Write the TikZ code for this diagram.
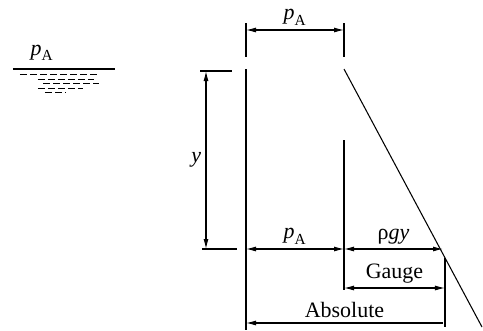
\documentclass[tikz,border=0pt]{standalone}
\usepackage{fontspec}
\setmainfont{Liberation Serif}
\usepackage{amsmath}
\usetikzlibrary{arrows.meta, positioning, calc}

\newcommand{\pA}{$\textit{p}_{\text{A}}$}

\begin{document}
\begin{tikzpicture}[
        line width=0.6pt,
        font=\fontsize{12.5}{14}\selectfont,
        dimline/.style={{Latex[length=2mm,width=1mm]}-{Latex[length=2mm,width=1mm]}},
        leftdim/.style={{Latex[length=2mm,width=1mm]}-},
        water/.style={dash pattern=on 4pt off 1.7pt, line width=0.55pt},
        lbl/.style={inner sep=2.5pt}
    ]
        \useasboundingbox (0,0) rectangle (9.66,-6.6);

        % Free surface with atmospheric pressure
        \coordinate (surfL) at (0.26,-1.38);
        \coordinate (surfR) at (2.3,-1.38);
        \draw (surfL) -- (surfR);
        \node[lbl] (patm) at (0.84,-1.06) {\pA};
        \draw[water] (0.4,-1.48) -- (1.98,-1.48);
        \draw[water] (0.76,-1.58) -- (1.88,-1.58);
        \draw[water] (0.86,-1.67) -- (1.98,-1.67);
        \draw[water] (0.76,-1.76) -- (1.66,-1.76);
        \draw[water] (0.9,-1.85) -- (1.32,-1.85);

        % Pressure axis and distribution
        \coordinate (wallTop) at (4.92,-1.38);
        \coordinate (wallBot) at (4.92,-6.6);
        \coordinate (slopeTop) at (6.88,-1.38);
        \coordinate (slopeBot) at (9.64,-6.54);
        \coordinate (gaugeTop) at (6.88,-2.8);
        \coordinate (gaugeBot) at (6.88,-5.8);
        \coordinate (absTop) at (8.9,-5.16);
        \coordinate (absBot) at (8.9,-6.54);
        \draw (wallTop) -- (wallBot);
        \draw (slopeTop) -- (slopeBot);
        \draw (gaugeTop) -- (gaugeBot);
        \draw (absTop) -- (absBot);

        % Atmospheric pressure on top
        \coordinate (extL1) at (4.92,-0.46);
        \coordinate (extL2) at (4.92,-1.14);
        \coordinate (extR1) at (6.88,-0.46);
        \coordinate (extR2) at (6.88,-1.14);
        \draw (extL1) -- (extL2);
        \draw (extR1) -- (extR2);
        \draw[dimline] (4.92,-0.6) -- node[lbl, above] (ptop) {\pA} (6.88,-0.6);

        % Depth y
        \coordinate (yTopL) at (4.0,-1.42);
        \coordinate (yTopR) at (4.64,-1.42);
        \coordinate (yBotL) at (4.04,-4.98);
        \coordinate (yBotR) at (4.74,-4.98);
        \draw (yTopL) -- (yTopR);
        \draw (yBotL) -- (yBotR);
        \draw[dimline] (4.12,-1.42) -- node[lbl, left] (ylab) {\textit{y}} (4.12,-4.98);

        % Pressures at depth y
        \draw[dimline] (4.92,-4.98) -- node[lbl, above] (pbot) {\pA} (6.88,-4.98);
        \draw[dimline] (6.88,-4.98) -- node[lbl, above] (rgy) {ρ\textit{gy}} (8.86,-4.98);
        \draw[dimline] (6.88,-5.76) -- node[lbl, above] (gauge) {Gauge} (8.9,-5.76);
        \draw[leftdim] (4.92,-6.46) -- node[lbl, above] (absol) {Absolute} (8.86,-6.46);
    \end{tikzpicture}
\end{document}
